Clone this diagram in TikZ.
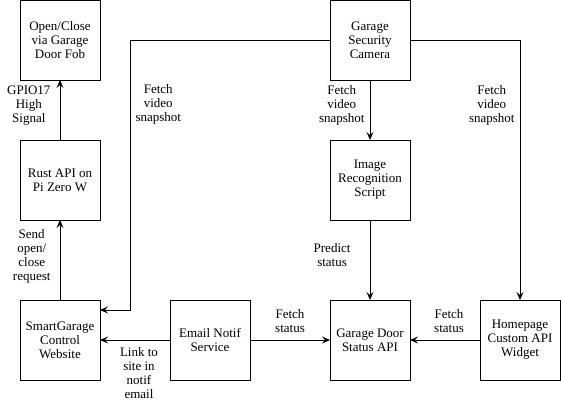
\documentclass[tikz,border=0pt]{standalone}
\usepackage{fontspec}
\setmainfont{Liberation Serif}
\usetikzlibrary{arrows.meta, positioning}

\begin{document}
\begin{tikzpicture}[
  x=1pt, y=-1pt,
  font=\fontsize{13}{14}\selectfont,
  compbox/.style={draw, line width=1pt, outer sep=0pt, minimum width=80pt, minimum height=80pt, align=center, inner sep=2pt},
  flow/.style={line width=1pt, -{Stealth[length=8pt, width=7pt, inset=3pt]}},
  note/.style={align=center, inner sep=1pt}
]
\useasboundingbox (0,0) rectangle (561,405);

\node[compbox] (fob) at (60,40) {Open/Close\\via Garage\\Door Fob};
\node[compbox, below=60pt of fob] (rust) {Rust API on\\Pi Zero W};
\node[compbox, below=80pt of rust] (website) {SmartGarage\\Control\\Website};
\node[compbox, right=70pt of website] (email) {Email Notif\\Service};
\node[compbox, right=80pt of email] (status) {Garage Door\\Status API};
\node[compbox, right=70pt of status] (widget) {Homepage\\Custom API\\Widget};
\node[compbox, above=80pt of status] (recog) {Image\\Recognition\\Script};
\node[compbox, above=60pt of recog] (camera) {Garage\\Security\\Camera};

\coordinate (camtap) at ([xshift=30pt, yshift=-10pt]website.north east);

\draw[flow] (rust) -- node[note, left=8pt, yshift=4pt] {GPIO17\\High\\Signal} (fob);
\draw[flow] (website) -- node[note, left=8pt, yshift=4pt] {Send\\open/\\close\\request} (rust);
\draw[flow] (camera.west) -| node[pos=0.62, note, right=4pt] {Fetch\\video\\snapshot} (camtap) -- (camtap -| website.east);
\draw[flow] (email) -- node[note, below=6pt, xshift=4pt] {Link to\\site in\\notif\\email} (website);
\draw[flow] (email) -- node[note, above=6pt] {Fetch\\status} (status);
\draw[flow] (widget) -- node[note, above=6pt, xshift=4pt] {Fetch\\status} (status);
\draw[flow] (camera) -- node[note, left=4pt, yshift=5pt] {Fetch\\video\\snapshot} (recog);
\draw[flow] (recog) -- node[note, left=18pt, yshift=5pt] {Predict\\status} (status);
\draw[flow] (camera.east) -| node[pos=0.625, note, left=4pt] {Fetch\\video\\snapshot} (widget);

\end{tikzpicture}
\end{document}
